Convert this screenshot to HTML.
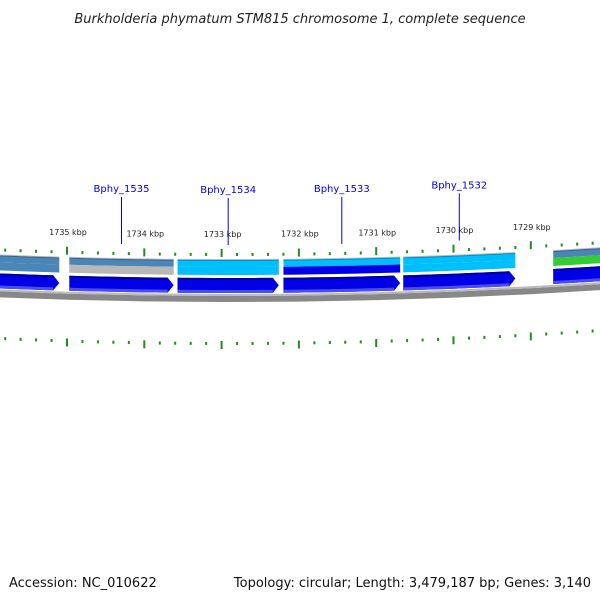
<!DOCTYPE html>
<html><head><meta charset="utf-8"><style>
body{margin:0;background:#fff}
svg{display:block;font-family:"DejaVu Sans","Liberation Sans",sans-serif}
</style></head><body>
<svg width="600" height="600" viewBox="0 0 600 600">
<text x="300" y="23" text-anchor="middle" font-size="13" font-style="italic" fill="#222">Burkholderia phymatum STM815 chromosome 1, complete sequence</text>
<g id="plot"></g>
<text x="9" y="587" font-size="13" fill="#111">Accession: NC_010622</text>
<text x="591" y="587" text-anchor="end" font-size="13" fill="#111">Topology: circular; Length: 3,479,187 bp; Genes: 3,140</text>
</svg>
<script>
const tickKbp = [1736, 1735, 1734, 1733, 1732, 1731, 1730, 1729, 1728];
const tickLabels = ["1736 kbp","1735 kbp","1734 kbp","1733 kbp","1732 kbp","1731 kbp","1730 kbp","1729 kbp","1728 kbp"];
const geneStart = [1735.9, 1734.97, 1733.57, 1732.2, 1730.65, 1728.71];
const geneEnd = [1735.1, 1733.62, 1732.26, 1730.69, 1729.2, 1727.5];
const geneNames = ["", "Bphy_1535", "Bphy_1534", "Bphy_1533", "Bphy_1532", ""];
const geneTopColor = ["#4a86b8", "#4a86b8", "#00bfff", "#00bfff", "#00bfff", "#4a86b8"];
const geneBottomColor = ["#4a86b8", "#b8b8b8", "#00bfff", "#0000e6", "#00bfff", "#33cc33"];

const NS = "http://www.w3.org/2000/svg";
const plot = document.getElementById('plot');
function xOf(k){ return 67 + (1735 - k) * 77.3; }
function curve(x){ return -(x - 230) * (x - 230) / 11600; }
function el(tag, attrs){ const e = document.createElementNS(NS, tag); for (const k in attrs) e.setAttribute(k, attrs[k]); plot.appendChild(e); return e; }
function band(x1, x2, y1, y2, fill){
  const pts = [];
  for (let i = 0; i <= 8; i++){ const x = x1 + (x2 - x1) * i / 8; pts.push(x + "," + (y1 + curve(x))); }
  for (let i = 8; i >= 0; i--){ const x = x1 + (x2 - x1) * i / 8; pts.push(x + "," + (y2 + curve(x))); }
  return el('polygon', {points: pts.join(' '), fill: fill});
}
// backbone
const bb = band(-10, 610, 296, 302, '#888');


const bb2 = band(-10, 610, 294, 296, '#bbb');


// ticks
for (let t = 0; t < tickKbp.length; t++){
  for (let m = 0; m < 5; m++){
    const k = tickKbp[t] - m * 0.2;
    const x = xOf(k);
    if (x < -5 || x > 605) continue;
    const major = m === 0;
    const c = curve(x);
    const up = el('rect', {x: x - 1, y: (major ? 249 : 253) + c, width: 2, height: major ? 8 : 3, fill: '#228b22'});
    
    
    const dn = el('rect', {x: x - 1, y: (major ? 341 : 342) + c * 1.1, width: 2, height: major ? 8 : 3, fill: '#228b22'});
    
    
    if (major){
      const lb = el('text', {x: x + 1, y: 237 + c * 0.9, 'font-size': 8, 'text-anchor': 'middle', fill: '#222'});
      lb.textContent = tickLabels[t];
      
      
    }
  }
}
// genes
for (let g = 0; g < geneStart.length; g++){
  const x1 = xOf(geneStart[g]), x2 = xOf(geneEnd[g]);
  const top = band(x1, x2, 260, 267, geneTopColor[g]);
  
  
  const bot = band(x1, x2, 267, 275, geneBottomColor[g]);
  
  
  band(x1, x2, 259, 261, 'rgba(0,0,0,0.25)');
  // arrow
  const xe = x2 - 6;
  const pts = [];
  for (let i = 0; i <= 8; i++){ const x = x1 + (xe - x1) * i / 8; pts.push(x + "," + (278 + curve(x))); }
  pts.push(x2 + "," + (285.5 + curve(x2)));
  for (let i = 8; i >= 0; i--){ const x = x1 + (xe - x1) * i / 8; pts.push(x + "," + (293 + curve(x))); }
  const ar = el('polygon', {points: pts.join(' '), fill: '#0000e6'});
  
  
  band(x1, xe, 278, 280, '#00009a');
  band(x1, xe, 290, 293, '#4c4cf0');
  if (geneNames[g]){
    const mx = (x1 + x2) / 2;
    const c = curve(mx);
    const ln = el('line', {x1: mx, y1: 198 + c, x2: mx, y2: 245 + c, stroke: '#0000e6', 'stroke-width': 1});
    
    
    const tx = el('text', {x: mx, y: 193 + c, 'font-size': 10, 'text-anchor': 'middle', fill: '#0000e6'});
    tx.textContent = geneNames[g];
    
    
  }
}
</script>
</body></html>
